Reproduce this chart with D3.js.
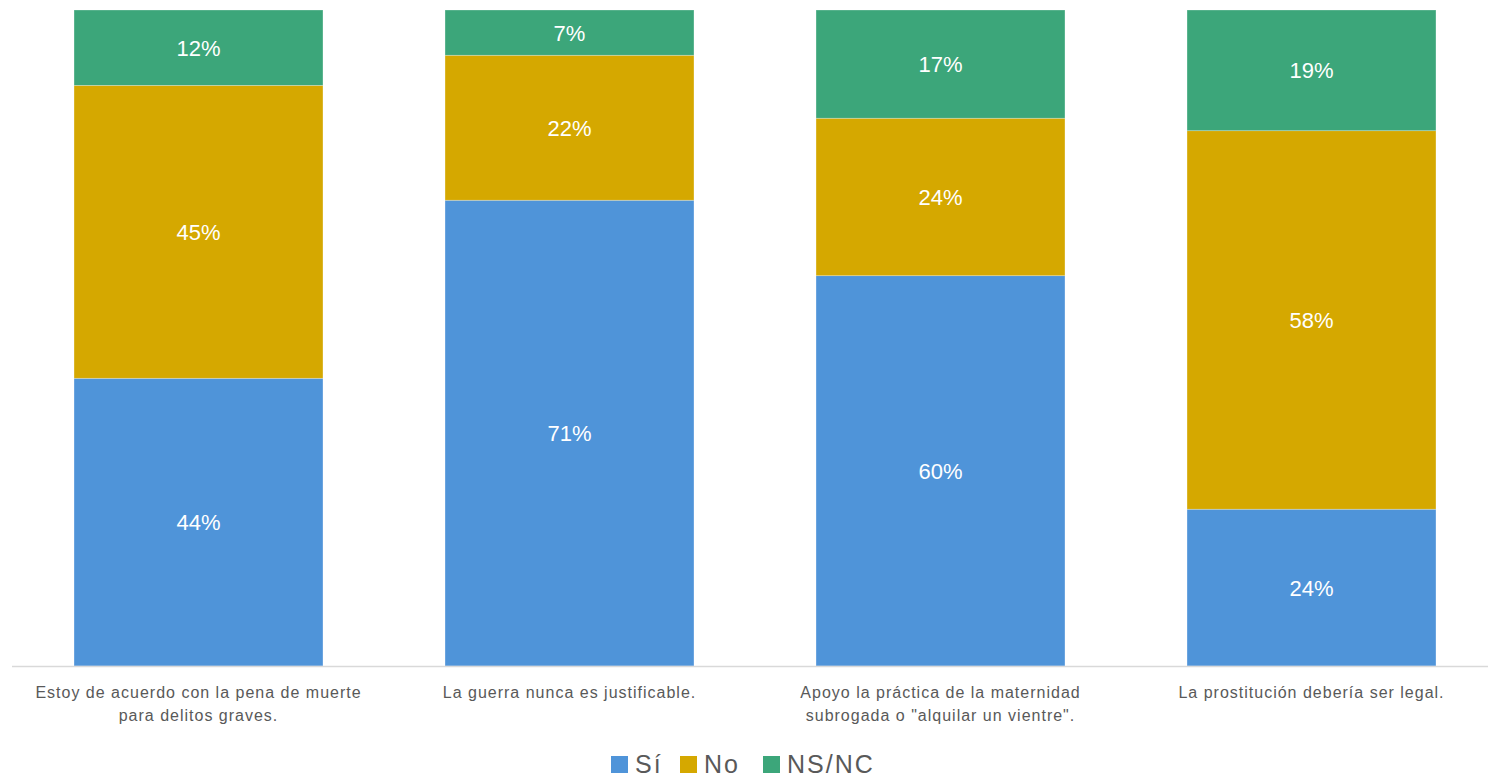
<!DOCTYPE html>
<html><head><meta charset="utf-8">
<script src="https://cdn.jsdelivr.net/npm/d3@7"></script>
<style>body{margin:0;background:#fff}svg{display:block}</style>
</head><body>
<script>
const categories = [
  ["Estoy de acuerdo con la pena de muerte", "para delitos graves."],
  ["La guerra nunca es justificable."],
  ["Apoyo la práctica de la maternidad", "subrogada o \"alquilar un vientre\"."],
  ["La prostitución debería ser legal."]
];
const seriesNames = ["Sí", "No", "NS/NC"];
// segment shares (%)
const si = [43.9, 71.0, 59.5, 23.9];
const no = [44.7, 22.1, 24.0, 57.7];
const nsnc = [11.5, 6.9, 16.5, 18.4];
// data labels as printed on the chart
const siLabels = ["44%", "71%", "60%", "24%"];
const noLabels = ["45%", "22%", "24%", "58%"];
const nsncLabels = ["12%", "7%", "17%", "19%"];
const colors = ["#4f94d9", "#d5a800", "#3ca67a"];

const W = 1488, H = 779;
const svg = d3.select("body").append("svg").attr("width", W).attr("height", H);

const rows = categories.map((c, i) => ({key: i, "Sí": si[i], "No": no[i], "NS/NC": nsnc[i]}));
const stack = d3.stack().keys(seriesNames).offset(d3.stackOffsetExpand);
const layers = stack(rows);
const labelSets = [siLabels, noLabels, nsncLabels];

const x = d3.scaleBand().domain(d3.range(categories.length)).range([13, 1497]).paddingInner(0.329).paddingOuter(0.1645);
const y = d3.scaleLinear().domain([0, 1]).range([666, 10]);

const g = svg.append("g");
layers.forEach((layer, li) => {
  g.selectAll(null).data(layer).enter().append("rect")
    .attr("x", (d, i) => x(i))
    .attr("width", x.bandwidth())
    .attr("y", d => y(d[1]))
    .attr("height", d => y(d[0]) - y(d[1]))
    .attr("fill", colors[li])
    .attr("stroke", "rgba(255,255,255,0.35)")
    .attr("stroke-width", 0.75);
});
layers.forEach((layer, li) => {
  g.selectAll(null).data(layer).enter().append("text")
    .attr("x", (d, i) => x(i) + x.bandwidth() / 2)
    .attr("y", d => (y(d[0]) + y(d[1])) / 2)
    .attr("dy", "0.36em")
    .attr("text-anchor", "middle")
    .attr("fill", "#fff")
    .style("font-family", "Liberation Sans, Arial, sans-serif")
    .style("font-size", "22px")
    .text((d, i) => labelSets[li][i]);
});

// axis baseline
svg.append("line").attr("x1", 12).attr("x2", 1488).attr("y1", 666.5).attr("y2", 666.5)
  .attr("stroke", "#d9d9d9").attr("stroke-width", 1.5);

// category labels
categories.forEach((lines, i) => {
  const cx = x(i) + x.bandwidth() / 2;
  const t = svg.append("text")
    .attr("x", cx)
    .attr("y", 698)
    .attr("text-anchor", "middle")
    .attr("fill", "#595959")
    .style("font-family", "Liberation Sans, Arial, sans-serif")
    .style("font-size", "16px")
    .style("letter-spacing", "1px");
  lines.forEach((l, j) => t.append("tspan").attr("x", cx).attr("dy", j === 0 ? 0 : 23).text(l));
});

// legend
const legendX = [611, 680, 763];
seriesNames.forEach((s, i) => {
  svg.append("rect").attr("x", legendX[i]).attr("y", 756).attr("width", 17).attr("height", 17).attr("fill", colors[i]);
  svg.append("text").attr("x", legendX[i] + 24).attr("y", 773)
    .attr("fill", "#595959")
    .style("font-family", "Liberation Sans, Arial, sans-serif")
    .style("font-size", "25px")
    .style("letter-spacing", "2px")
    .text(s);
});
</script>
</body></html>
